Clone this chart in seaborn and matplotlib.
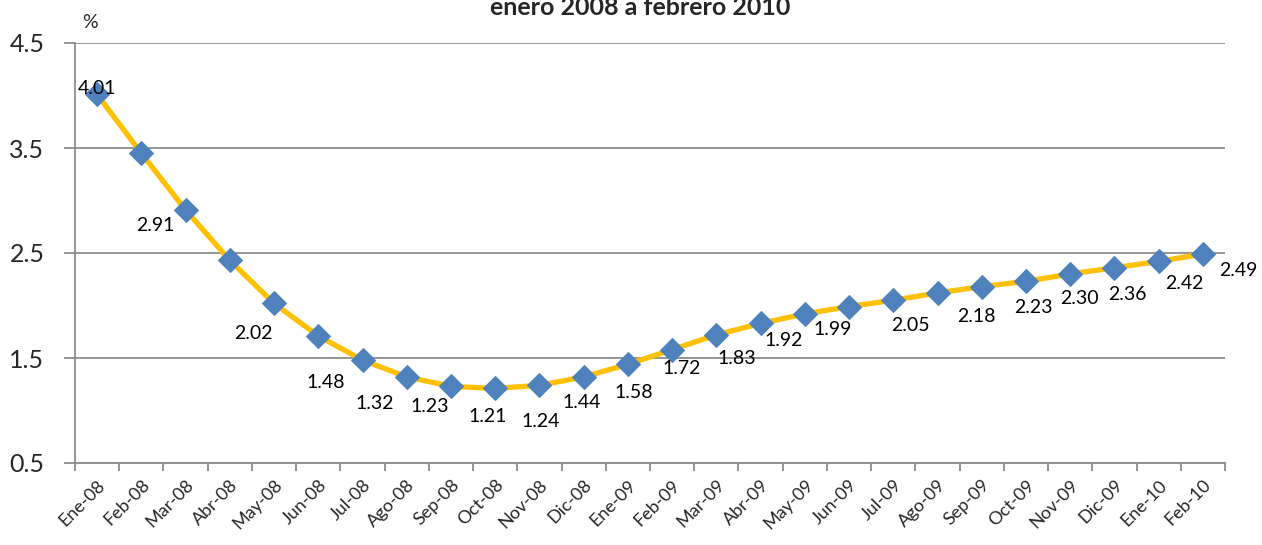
"""
Tasa mensual (%) de enero 2008 a febrero 2010 - line chart with diamond markers.
"""

import numpy as np
import pandas as pd
import matplotlib
matplotlib.use("Agg")
import matplotlib.pyplot as plt
import seaborn as sns

# Data
MONTHS = ['Ene-08', 'Feb-08', 'Mar-08', 'Abr-08', 'May-08', 'Jun-08', 'Jul-08',
          'Ago-08', 'Sep-08', 'Oct-08', 'Nov-08', 'Dic-08', 'Ene-09', 'Feb-09',
          'Mar-09', 'Abr-09', 'May-09', 'Jun-09', 'Jul-09', 'Ago-09', 'Sep-09',
          'Oct-09', 'Nov-09', 'Dic-09', 'Ene-10', 'Feb-10']
RATES = [4.01, 3.45, 2.91, 2.43, 2.02, 1.71, 1.48, 1.32, 1.23, 1.21, 1.24, 1.32,
         1.44, 1.58, 1.72, 1.83, 1.92, 1.99, 2.05, 2.12, 2.18, 2.23, 2.30, 2.36,
         2.42, 2.49]
# months that carry a value label in the original
LABELED = ['Ene-08', 'Mar-08', 'May-08', 'Jul-08', 'Ago-08', 'Sep-08', 'Oct-08',
           'Nov-08', 'Ene-09', 'Feb-09', 'Mar-09', 'Abr-09', 'May-09', 'Jun-09',
           'Jul-09', 'Sep-09', 'Oct-09', 'Nov-09', 'Dic-09', 'Ene-10', 'Feb-10']
Y_TICKS = [0.5, 1.5, 2.5, 3.5, 4.5]
TITLE = 'enero 2008 a febrero 2010'

# label placement (pixel offsets from the point, like the hand-placed Excel labels)
LABEL_OFFSETS = {
    'Ene-08': (0, 6), 'Mar-08': (-30, -16), 'May-08': (-21, -30),
    'Jul-08': (-37, -22), 'Ago-08': (-32, -27), 'Sep-08': (-21, -20),
    'Oct-08': (-8, -28), 'Nov-08': (1, -36), 'Ene-09': (-46, -38),
    'Feb-09': (-38, -43), 'Mar-09': (-35, -34), 'Abr-09': (-24, -35),
    'May-09': (-21, -27), 'Jun-09': (-16, -23), 'Jul-09': (17, -25),
    'Sep-09': (-5, -30), 'Oct-09': (7, -26), 'Nov-09': (9, -24),
    'Dic-09': (13, -27), 'Ene-10': (26, -22), 'Feb-10': (35, -16),
}

LINE_COLOR = '#FFC000'
MARKER_COLOR = '#4F81BD'
GRID_COLOR = '#8C8C8C'


def main():
    sns.set_theme(style="white")
    plt.rcParams['font.family'] = ['Lato', 'DejaVu Sans']

    df = pd.DataFrame({'pos': np.arange(len(MONTHS)), 'mes': MONTHS, 'tasa': RATES})

    fig = plt.figure(figsize=(12.62, 5.45), dpi=100)
    ax = fig.add_axes([75 / 1262, 1 - 463 / 545, 1150 / 1262, 420 / 545])

    sns.lineplot(data=df, x='pos', y='tasa', ax=ax, color=LINE_COLOR, linewidth=3.8,
                 marker='D', markersize=12, markerfacecolor=MARKER_COLOR,
                 markeredgecolor=MARKER_COLOR, zorder=3)

    # value labels
    for _, row in df.iterrows():
        if row['mes'] in LABELED:
            dx, dy = LABEL_OFFSETS[row['mes']]
            ax.annotate(f"{row['tasa']:.2f}", (row['pos'], row['tasa']),
                        xytext=(dx, dy), textcoords='offset pixels',
                        ha='center', va='center', fontsize=14, color='black',
                        zorder=4)

    # axes styling
    ax.set_xlim(-0.5, len(MONTHS) - 0.5)
    ax.set_ylim(Y_TICKS[0], Y_TICKS[-1])
    ax.set_yticks(Y_TICKS)
    ax.set_yticklabels([f"{v:g}" for v in Y_TICKS], fontsize=18)
    ax.yaxis.grid(True, color=GRID_COLOR, linewidth=1.3)
    ax.set_axisbelow(True)

    ax.set_xticks(df['pos'])
    ax.set_xticklabels(MONTHS, rotation=45, ha='right', rotation_mode='anchor',
                       fontsize=13)
    ax.tick_params(axis='x', length=0, pad=10)
    ax.set_xticks(np.arange(-0.5, len(MONTHS)), minor=True)
    ax.tick_params(axis='x', which='minor', length=6, color=GRID_COLOR,
                   width=1.3, direction='out', bottom=True)
    ax.tick_params(axis='y', length=8, color=GRID_COLOR, width=1.3,
                   direction='out', left=True, pad=14)

    for side in ['top', 'right']:
        ax.spines[side].set_visible(False)
    for side in ['left', 'bottom']:
        ax.spines[side].set_color(GRID_COLOR)
        ax.spines[side].set_linewidth(1.3)

    ax.set_xlabel('')
    ax.set_ylabel('')

    fig.text(90 / 1262, 1 - 22 / 545, '%', ha='center', va='center', fontsize=14)
    fig.text(640 / 1262, 1 - 15 / 545, TITLE, ha='center', va='baseline',
             fontsize=18, fontweight='bold')

    fig.savefig('out.png', dpi=100)
    plt.close(fig)


if __name__ == '__main__':
    main()
